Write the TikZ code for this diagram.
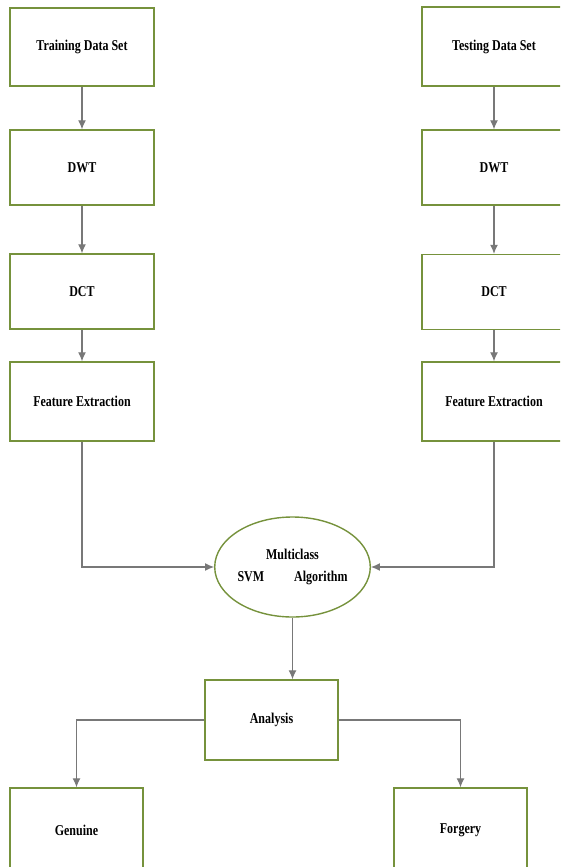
\documentclass[tikz,border=0pt]{standalone}
\usepackage{fontspec}
\setmainfont{Liberation Serif}[FakeStretch=0.8]
\usetikzlibrary{arrows.meta,shapes.geometric}
\definecolor{boxgreen}{RGB}{118,146,60}
\definecolor{flowgray}{RGB}{120,120,120}
\begin{document}
\begin{tikzpicture}[x=1pt,y=-1pt,
    stagebox/.style={draw=boxgreen,line width=1.4pt,fill=white,minimum width=144pt,
      minimum height=76pt,inner sep=0pt,font=\fontsize{15}{17}\selectfont\bfseries},
    flow/.style={draw=flowgray,line width=1.1pt,-{Latex[length=9pt,width=8pt]}}]
        \useasboundingbox (0,0) rectangle (560,867);
        \clip (0,0) rectangle (560,867);
        % training side
        \node[stagebox,minimum height=78pt] (train) at (82,47) {Training Data Set};
        \node[stagebox,minimum height=75pt] (ldwt) at (82,167.5) {DWT};
        \node[stagebox,minimum height=75pt] (ldct) at (82,291.5) {DCT};
        \node[stagebox,minimum height=79pt] (lfe) at (82,401.5) {Feature Extraction};
        % testing side
        \node[stagebox,minimum height=79pt] (test) at (494,46.5) {Testing Data Set};
        \node[stagebox,minimum height=75pt] (rdwt) at (494,167.5) {DWT};
        \node[stagebox,minimum height=75pt] (rdct) at (494,292) {DCT};
        \node[stagebox,minimum height=79pt] (rfe) at (494,401.5) {Feature Extraction};
        % classifier and result
        \node[stagebox,ellipse,minimum width=143pt,minimum height=100pt,align=center] (svm) at (292.5,567)
          {Multiclass\\[5pt]\makebox[110pt]{SVM\hfill Algorithm}};
        \node[stagebox,minimum width=133pt,minimum height=80pt] (analysis) at (271.5,720) {Analysis};
        \node[stagebox,minimum width=133pt,minimum height=84pt] (genuine) at (76.5,830) {Genuine};
        \node[stagebox,minimum width=133pt,minimum height=84pt] (forgery) at (460.5,830) {Forgery};

        \draw[flow] (train) -- (ldwt);
        \draw[flow] (ldwt) -- (ldct);
        \draw[flow] (ldct) -- (lfe);
        \draw[flow] (test) -- (rdwt);
        \draw[flow] (rdwt) -- (rdct);
        \draw[flow] (rdct) -- (rfe);
        \draw[flow] (lfe) |- (svm);
        \draw[flow] (rfe) |- (svm);
        \draw[flow] (svm.south) -- (svm.south |- analysis.north);
        \draw[flow] (analysis) -| (genuine);
        \draw[flow] (analysis) -| (forgery);

      \end{tikzpicture}
\end{document}
